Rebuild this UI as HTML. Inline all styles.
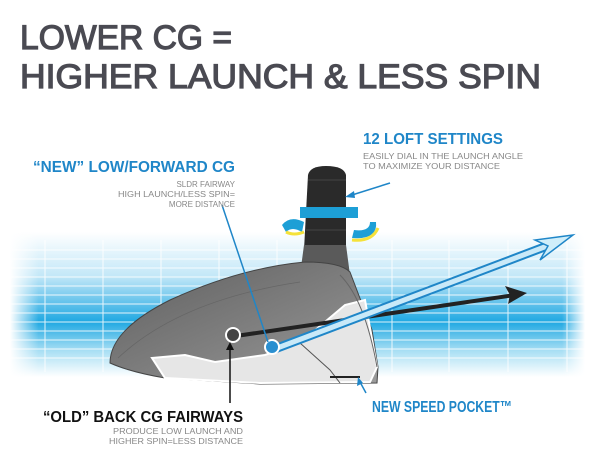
<!DOCTYPE html>
<html><head><meta charset="utf-8"><style>
html,body{margin:0;padding:0;background:#fff;width:600px;height:452px;overflow:hidden}
svg{display:block}
text{font-family:"Liberation Sans",sans-serif}
</style></head><body>
<svg width="600" height="452" viewBox="0 0 600 452" xmlns="http://www.w3.org/2000/svg">
<defs>
<linearGradient id="band" x1="0" y1="0" x2="0" y2="1">
<stop offset="0" stop-color="#fff"/>
<stop offset="0.3" stop-color="#c4e8f8"/>
<stop offset="0.62" stop-color="#1fa8e2"/>
<stop offset="0.82" stop-color="#a9dff4"/>
<stop offset="1" stop-color="#fff"/>
</linearGradient>
<linearGradient id="fadeL" x1="0" y1="0" x2="1" y2="0">
<stop offset="0" stop-color="#fff" stop-opacity="1"/>
<stop offset="0.05" stop-color="#fff" stop-opacity="0"/>
<stop offset="0.96" stop-color="#fff" stop-opacity="0"/>
<stop offset="1" stop-color="#fff" stop-opacity="1"/>
</linearGradient>
<linearGradient id="body" x1="0" y1="0" x2="1" y2="1">
<stop offset="0" stop-color="#5f5f5f"/>
<stop offset="0.6" stop-color="#838383"/>
<stop offset="1" stop-color="#9c9c9c"/>
</linearGradient>
</defs>

<!-- title -->
<text x="20" y="49" font-size="34" fill="#4a4a52" stroke="#4a4a52" stroke-width="1.2" textLength="212" lengthAdjust="spacingAndGlyphs">LOWER CG =</text>
<text x="20" y="88" font-size="34" fill="#4a4a52" stroke="#4a4a52" stroke-width="1.2" textLength="521" lengthAdjust="spacingAndGlyphs">HIGHER LAUNCH &amp; LESS SPIN</text>

<!-- band -->
<rect x="10" y="232" width="575" height="145" fill="url(#band)"/>
<g stroke="#fff" stroke-width="1" opacity="0.85">
<line x1="10" y1="250" x2="585" y2="250"/><line x1="10" y1="259" x2="585" y2="259"/>
<line x1="10" y1="268" x2="585" y2="268"/><line x1="10" y1="277" x2="585" y2="277"/>
<line x1="10" y1="286" x2="585" y2="286"/><line x1="10" y1="295" x2="585" y2="295"/>
<line x1="10" y1="304" x2="585" y2="304"/><line x1="10" y1="313" x2="585" y2="313"/>
<line x1="10" y1="322" x2="585" y2="322"/><line x1="10" y1="331" x2="585" y2="331"/>
<line x1="10" y1="340" x2="585" y2="340"/><line x1="10" y1="349" x2="585" y2="349"/>
<line x1="10" y1="358" x2="585" y2="358"/>
<line x1="45" y1="240" x2="45" y2="372"/><line x1="103" y1="240" x2="103" y2="372"/>
<line x1="161" y1="240" x2="161" y2="372"/><line x1="219" y1="240" x2="219" y2="372"/>
<line x1="277" y1="240" x2="277" y2="372"/><line x1="335" y1="240" x2="335" y2="372"/>
<line x1="392" y1="240" x2="392" y2="372"/><line x1="449" y1="240" x2="449" y2="372"/>
<line x1="508" y1="240" x2="508" y2="372"/><line x1="567" y1="240" x2="567" y2="372"/>
</g>
<rect x="10" y="232" width="575" height="145" fill="url(#fadeL)"/>

<!-- hosel -->
<path d="M308,175 Q310,166 326,166 Q344,166 346,175 L346,262 L304,262 L304,250 Z" fill="#2a2a2a"/>
<line x1="308" y1="180" x2="346" y2="180" stroke="#444"/>
<line x1="306" y1="230" x2="346" y2="230" stroke="#444"/>
<path d="M304,245 L346,245 L350,275 L300,275 Z" fill="#5a5a5a"/>
<rect x="300" y="207" width="58" height="11" fill="#1d9fd6"/>
<path d="M282,225 Q290,215 304,222 L302,232 Q292,226 286,232 Z" fill="#1d9fd6"/>
<path d="M286,232 Q294,236 304,232" stroke="#f5e23a" stroke-width="3" fill="none"/>
<path d="M376,222 Q378,240 352,238 L354,230 Q370,232 370,222 Z" fill="#1d9fd6"/>
<path d="M352,240 Q372,242 378,228" stroke="#f5e23a" stroke-width="3" fill="none"/>

<!-- head -->
<path d="M110,363 Q110,330 170,300 Q240,268 305,262 Q340,262 350,272 L372,330 L378,367 L377,383 L260,384 L165,378 Q130,372 110,363 Z" fill="url(#body)" stroke="#444" stroke-width="1"/>
<path d="M152,358 L185,355 L215,362 L265,355 L300,343 L345,305 L365,300 L377,367 L370,382 L260,383 L165,378 Z" fill="#e6e6e6" stroke="#fff" stroke-width="2"/>
<path d="M300,343 L330,370 L340,383" stroke="#555" stroke-width="1" fill="none"/>
<path d="M340,275 Q365,300 377,367" stroke="#666" stroke-width="1" fill="none"/>
<path d="M118,358 Q180,300 300,282" stroke="#666" stroke-width="0.8" fill="none"/>
<path d="M330,377 L360,377" stroke="#222" stroke-width="2"/>

<!-- black arrow -->
<line x1="236" y1="336" x2="515" y2="295" stroke="#222" stroke-width="4"/>
<path d="M527,293 L505,286 L510,295 L508,304 Z" fill="#222"/>

<!-- blue arrow -->
<path d="M272,350 L555,243" stroke="#1f86c8" stroke-width="9"/>
<path d="M272,350 L555,243" stroke="#c9e9f8" stroke-width="5"/>
<path d="M573,235 L535,240 L548,246 L540,260 Z" fill="#cfeefa" stroke="#1f86c8" stroke-width="1.5"/>

<!-- CG markers -->
<circle cx="233" cy="335" r="7" fill="#444" stroke="#fff" stroke-width="2"/>
<circle cx="272" cy="347" r="7" fill="#2a8fd0" stroke="#fff" stroke-width="2"/>

<!-- pointers -->
<line x1="222" y1="205" x2="268" y2="342" stroke="#1f86c8" stroke-width="1.5"/>
<line x1="230" y1="403" x2="230" y2="347" stroke="#111" stroke-width="1.5"/>
<path d="M230,342 L226,350 L234,350 Z" fill="#111"/>
<line x1="390" y1="183" x2="352" y2="195" stroke="#1f86c8" stroke-width="1.5"/>
<path d="M345,197 L354,191 L355,198 Z" fill="#1f86c8"/>
<line x1="366" y1="393" x2="360" y2="382" stroke="#1f86c8" stroke-width="1.5"/>
<path d="M358,377 L357,386 L363,383 Z" fill="#1f86c8"/>

<!-- labels -->
<text x="363" y="144" font-size="16" font-weight="bold" fill="#1f86c8" textLength="140" lengthAdjust="spacingAndGlyphs">12 LOFT SETTINGS</text>
<text x="363" y="159" font-size="8" fill="#888" textLength="160" lengthAdjust="spacingAndGlyphs">EASILY DIAL IN THE LAUNCH ANGLE</text>
<text x="363" y="169" font-size="8" fill="#888" textLength="137" lengthAdjust="spacingAndGlyphs">TO MAXIMIZE YOUR DISTANCE</text>

<text x="235" y="172" font-size="16" font-weight="bold" fill="#1f86c8" text-anchor="end" textLength="202" lengthAdjust="spacingAndGlyphs">“NEW” LOW/FORWARD CG</text>
<text x="235" y="187" font-size="8" fill="#888" text-anchor="end">SLDR FAIRWAY</text>
<text x="235" y="197" font-size="8" fill="#888" text-anchor="end" textLength="117" lengthAdjust="spacingAndGlyphs">HIGH LAUNCH/LESS SPIN=</text>
<text x="235" y="207" font-size="8" fill="#888" text-anchor="end">MORE DISTANCE</text>

<text x="372" y="412" font-size="16" font-weight="bold" fill="#1f86c8" textLength="140" lengthAdjust="spacingAndGlyphs">NEW SPEED POCKET™</text>

<text x="243" y="422" font-size="16" font-weight="bold" fill="#111" text-anchor="end" textLength="200" lengthAdjust="spacingAndGlyphs">“OLD” BACK CG FAIRWAYS</text>
<text x="243" y="434" font-size="8" fill="#888" text-anchor="end" textLength="130" lengthAdjust="spacingAndGlyphs">PRODUCE LOW LAUNCH AND</text>
<text x="243" y="444" font-size="8" fill="#888" text-anchor="end" textLength="134" lengthAdjust="spacingAndGlyphs">HIGHER SPIN=LESS DISTANCE</text>
</svg>
</body></html>
